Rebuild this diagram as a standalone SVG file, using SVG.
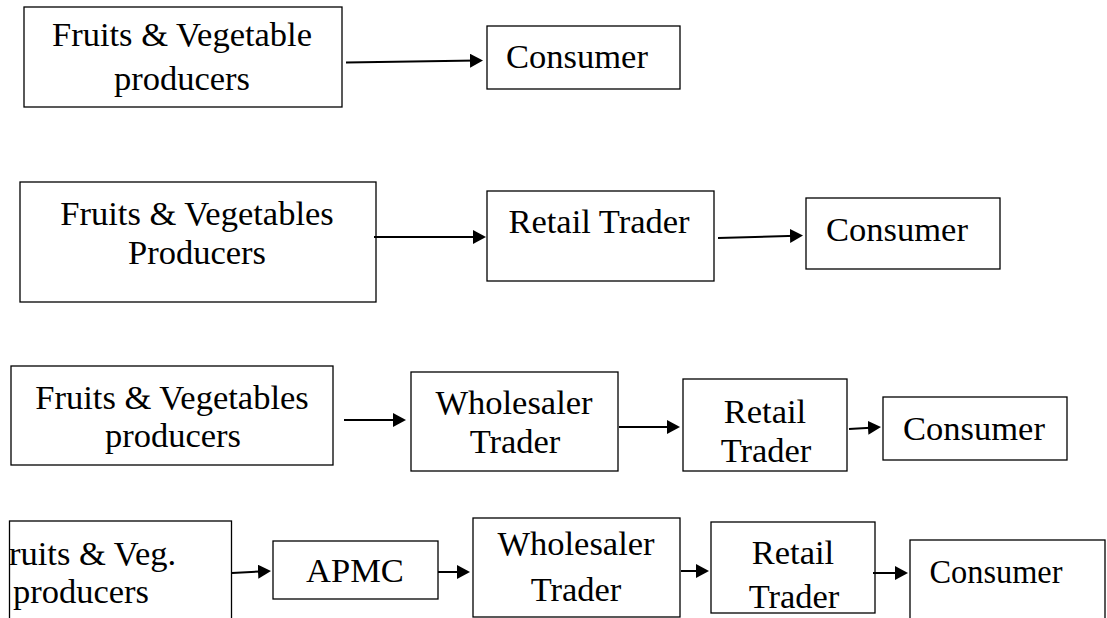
<svg xmlns="http://www.w3.org/2000/svg" width="1107" height="618" viewBox="0 0 1107 618">
  <style>
    .box { fill: #fff; stroke: #000; stroke-width: 1.3; }
    .lbl { font-family: "Liberation Serif", "Times New Roman", serif; font-size: 34.5px; fill: #000; text-anchor: middle; }
    .lft { text-anchor: start; }
    .con { fill: none; stroke: #000; stroke-width: 2; }
  </style>
  <defs>
    <marker id="head" markerUnits="userSpaceOnUse" markerWidth="14" markerHeight="14" refX="7" refY="7" orient="auto">
      <path d="M0,0 L13,7 L0,14 Z" fill="#000"/>
    </marker>
  </defs>
  <rect width="1107" height="618" fill="#fff"/>

  <!-- Channel 1: producer direct to consumer -->
  <g id="c1-producers">
    <rect class="box" x="24" y="7" width="318" height="100"/>
    <text class="lbl" x="182" y="46">Fruits &amp; Vegetable</text>
    <text class="lbl" x="182" y="90">producers</text>
  </g>
  <g id="c1-consumer">
    <rect class="box" x="487" y="26" width="193" height="63"/>
    <text class="lbl" x="577" y="68">Consumer</text>
  </g>

  <!-- Channel 2: via retail trader -->
  <g id="c2-producers">
    <rect class="box" x="20" y="182" width="356" height="120"/>
    <text class="lbl" x="197" y="225">Fruits &amp; Vegetables</text>
    <text class="lbl" x="197" y="264">Producers</text>
  </g>
  <g id="c2-retail">
    <rect class="box" x="487" y="191" width="227" height="90"/>
    <text class="lbl" x="599" y="233">Retail Trader</text>
  </g>
  <g id="c2-consumer">
    <rect class="box" x="806" y="198" width="194" height="71"/>
    <text class="lbl" x="897" y="241">Consumer</text>
  </g>

  <!-- Channel 3: via wholesaler and retailer -->
  <g id="c3-producers">
    <rect class="box" x="11" y="366" width="322" height="99"/>
    <text class="lbl" x="172" y="409">Fruits &amp; Vegetables</text>
    <text class="lbl" x="173" y="447">producers</text>
  </g>
  <g id="c3-wholesaler">
    <rect class="box" x="411" y="372" width="207" height="99"/>
    <text class="lbl" x="514" y="414">Wholesaler</text>
    <text class="lbl" x="515" y="453">Trader</text>
  </g>
  <g id="c3-retail">
    <rect class="box" x="683" y="379" width="164" height="92"/>
    <text class="lbl" x="765" y="423">Retail</text>
    <text class="lbl" x="766" y="462">Trader</text>
  </g>
  <g id="c3-consumer">
    <rect class="box" x="883" y="397" width="184" height="63"/>
    <text class="lbl" x="974" y="440">Consumer</text>
  </g>

  <!-- Channel 4: via APMC, wholesaler and retailer -->
  <g id="c4-producers">
    <rect class="box" x="9.5" y="521" width="222" height="110"/>
    <text class="lbl lft" x="9" y="565">ruits &amp; Veg.</text>
    <text class="lbl lft" x="13" y="603">producers</text>
  </g>
  <g id="c4-apmc">
    <rect class="box" x="273" y="541" width="165" height="58"/>
    <text class="lbl" x="355" y="582">APMC</text>
  </g>
  <g id="c4-wholesaler">
    <rect class="box" x="473" y="518" width="207" height="99"/>
    <text class="lbl" x="576" y="555">Wholesaler</text>
    <text class="lbl" x="576" y="601">Trader</text>
  </g>
  <g id="c4-retail">
    <rect class="box" x="711" y="522" width="164" height="91"/>
    <text class="lbl" x="793" y="564">Retail</text>
    <text class="lbl" x="794" y="608">Trader</text>
  </g>
  <g id="c4-consumer">
    <rect class="box" x="910" y="540" width="195" height="90"/>
    <text class="lbl" x="996" y="583" textLength="133" lengthAdjust="spacingAndGlyphs">Consumer</text>
  </g>

  <!-- Connectors -->
  <g id="connectors">
    <path class="con" marker-end="url(#head)" d="M346,62.5 L477,60.6"/>
    <path class="con" marker-end="url(#head)" d="M374,237 L480,237"/>
    <path class="con" marker-end="url(#head)" d="M718,238 L797,235.7"/>
    <path class="con" marker-end="url(#head)" d="M344,420 L400,420"/>
    <path class="con" marker-end="url(#head)" d="M619,427 L674,427"/>
    <path class="con" marker-end="url(#head)" d="M849,429 L875,427.4"/>
    <path class="con" marker-end="url(#head)" d="M232,573 L265,571.3"/>
    <path class="con" marker-end="url(#head)" d="M438,572 L464,572"/>
    <path class="con" marker-end="url(#head)" d="M681,571 L703,571"/>
    <path class="con" marker-end="url(#head)" d="M873,573 L902,573"/>
  </g>
</svg>
